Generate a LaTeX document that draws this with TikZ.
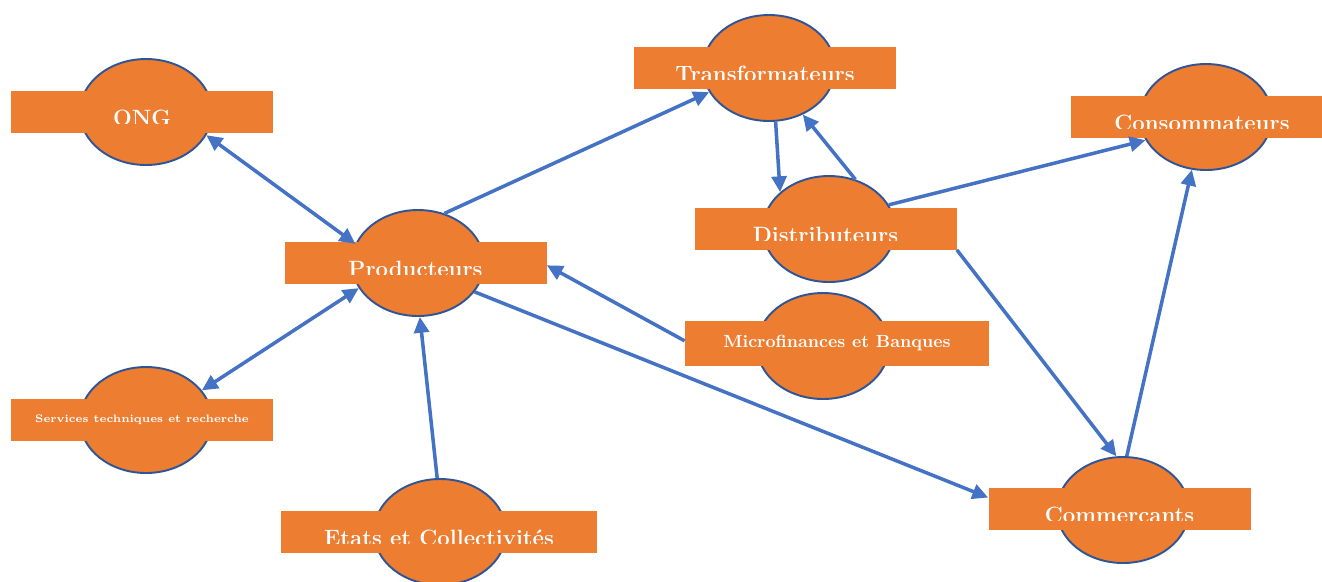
\documentclass[tikz,border=0pt]{standalone}
\usepackage{tikz}
\usetikzlibrary{%
  arrows.meta
 ,shapes
}
\definecolor{ora}{HTML}{ED7D31}
\definecolor{rim}{HTML}{2F5597}
\definecolor{lnk}{HTML}{4472C4}
\tikzstyle{blob}=[ellipse,draw=rim,line width=1.1pt,fill=ora,minimum width=2.64cm,minimum height=2.12cm,inner sep=0pt]
\tikzstyle{lbl}=[rectangle,fill=ora,minimum width=5.24cm,minimum height=0.84cm,inner sep=0pt,text=white,font=\bfseries]
\tikzset{cut/.style={lbl,path picture={
  \clip ([yshift=5.2pt]path picture bounding box.south west) rectangle (path picture bounding box.north east);
  \node[anchor=base,fill=none,draw=none,text=white,font=\bfseries\fontsize{12.6}{15}\selectfont,inner sep=0pt,minimum width=0pt,minimum height=0pt]
    at ([yshift=4pt]path picture bounding box.south) {#1};}}}
\tikzstyle{link}=[->,>={Triangle[length=9pt,width=8.5pt]},every edge/.style={draw=lnk,line width=2pt}]

\begin{document}
\begin{tikzpicture}
      \useasboundingbox (0,0) rectangle (26.44,-11.62);
      \clip (0,0) rectangle (26.44,-11.62);
      % ellipses
      \node[blob] (ong)   at (2.92,-2.24)  {};
      \node[blob] (prod)  at (8.36,-5.26)  {};
      \node[blob] (trans) at (15.38,-1.36) {};
      \node[blob] (dist)  at (16.58,-4.58) {};
      \node[blob] (cons)  at (24.12,-2.34) {};
      \node[blob] (micro) at (16.46,-6.92) {};
      \node[blob] (serv)  at (2.92,-8.40)  {};
      \node[blob] (etats) at (8.80,-10.64) {};
      \node[blob] (comm)  at (22.46,-10.20) {};
      % labels
      \node[cut=ONG] (ongBox) at (2.84,-2.24) {};
      \node[cut=Producteurs] (prodBox) at (8.31,-5.26) {};
      \node[cut=Transformateurs] (transBox) at (15.30,-1.36) {};
      \node[cut=Distributeurs] (distBox) at (16.51,-4.57) {};
      \node[cut=Consommateurs] (consBox) at (24.04,-2.33) {};
      \node[lbl,minimum width=6.08cm,minimum height=0.9cm] (microBox) at (16.74,-6.87) {Microfinances et Banques};
      \node[lbl,font=\bfseries\fontsize{6.2}{8}\selectfont] (servBox) at (2.84,-8.39) {Services techniques et recherche};
      \node[cut=Etats et Collectivités,minimum width=6.32cm] (etatsBox) at (8.78,-10.64) {};
      \node[cut=Commercants] (commBox) at (22.39,-10.18) {};
      \path[link]
        (ong.-21) edge[<->] (prod.163)
        (serv.28) edge[<->] (prod.-157)
        (prod.62) edge (trans.-158)
        (etats.93) edge (prod.-88)
        (prod.-27) edge (commBox.175)
        (microBox.179) edge (prodBox.-1)
        (trans.-83) edge (dist.143)
        (dist.62) edge (trans.-54)
        (dist.22) edge (cons.-159)
        (distBox.south east) edge (comm.97)
        (comm.86) edge (cons.-105);
    \end{tikzpicture}
\end{document}
